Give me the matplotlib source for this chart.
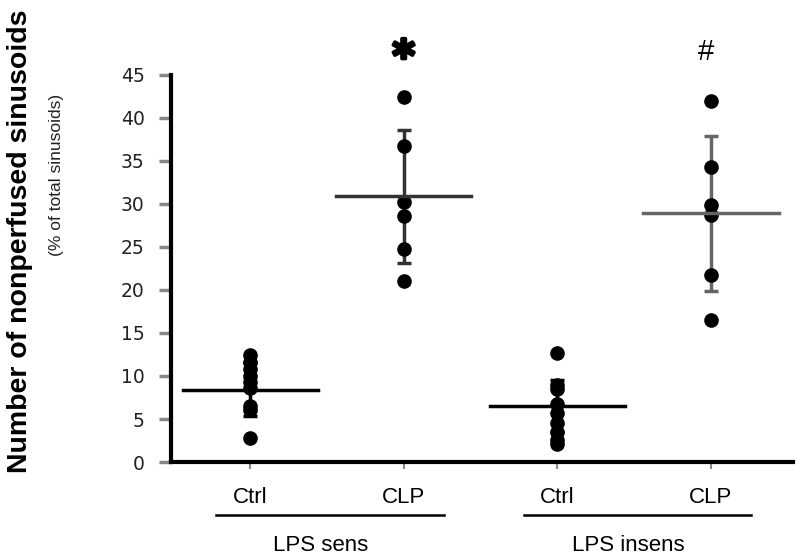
import matplotlib
matplotlib.use("Agg")
import matplotlib.pyplot as plt
import matplotlib.patheffects as pe
import numpy as np

# values
groups = ["Ctrl", "CLP", "Ctrl", "CLP"]
strains = ["LPS sens", "LPS insens"]
ctrl_sens = [12.4, 11.6, 10.8, 10.0, 9.3, 8.6, 6.5, 6.1, 2.8]
clp_sens = [42.4, 36.7, 30.2, 28.6, 24.8, 21.1]
ctrl_insens = [12.7, 9.0, 8.5, 6.8, 5.7, 4.5, 3.5, 2.6, 2.1]
clp_insens = [42.0, 34.3, 29.9, 28.7, 21.7, 16.5]
means = [8.4, 30.9, 6.5, 28.9]
sds = [3.1, 7.75, 3.0, 9.05]
marks = ["", "*", "", "#"]

data = [ctrl_sens, clp_sens, ctrl_insens, clp_insens]
pos = [1, 2, 3, 4]
line_col = ["black", "#333333", "black", "#666666"]

fig = plt.figure(figsize=(8, 5.59), dpi=100)
ax = fig.add_axes([0.214, 0.1735, 0.991 - 0.214, 0.866 - 0.1735])

for i, vals in enumerate(data):
    x = pos[i]
    ax.errorbar([x], [means[i]], yerr=[sds[i]], fmt="none", ecolor=line_col[i],
                elinewidth=2.5, capsize=5, capthick=2.5, zorder=2)
    ax.plot([x] * len(vals), vals, "o", color="black", ms=9.5, zorder=3)
    ax.plot([x - 0.44, x + 0.44], [means[i], means[i]], "-", color=line_col[i],
            lw=2.5, zorder=4)
    if marks[i] == "*":
        ax.text(x, 46.9, marks[i], ha="center", va="center", fontsize=31,
                fontweight="bold", family="DejaVu Sans", clip_on=False,
                path_effects=[pe.withStroke(linewidth=2.5, foreground="black")])
    elif marks[i]:
        ax.text(x - 0.03, 47.7, marks[i], ha="center", va="center", fontsize=21,
                family="Liberation Sans", clip_on=False)

ax.set_xlim(0.486, 4.533)
ax.set_ylim(0, 45)
ax.set_yticks(np.arange(0, 46, 5))
ax.set_xticks(pos)
ax.set_xticklabels([])
ax.tick_params(axis="y", direction="out", length=9, width=2.5, color="#888888",
               labelsize=13.5, labelcolor="#222222", pad=10)
ax.tick_params(axis="x", direction="out", length=5, width=1.5, color="#888888")
for lab in ax.get_yticklabels():
    lab.set_family("DejaVu Sans")
for s in ["top", "right"]:
    ax.spines[s].set_visible(False)
ax.spines["left"].set_linewidth(3)
ax.spines["bottom"].set_linewidth(3)

# x labels and group underlines
for i, g in enumerate(groups):
    ax.text(pos[i], -4.1, g, ha="center", va="center", fontsize=16,
            family="Liberation Sans", clip_on=False)
for k, name in enumerate(strains):
    xc = (pos[2 * k] + pos[2 * k + 1]) / 2
    ax.plot([xc - 0.72, xc + 0.76], [-6.16, -6.16], color="black", lw=1.8,
            clip_on=False)
    ax.text(xc - 0.04, -9.65, name, ha="center", va="center", fontsize=16,
            family="Liberation Sans", clip_on=False)

fig.text(0.025, 0.568, "Number of nonperfused sinusoids", rotation=90, ha="center",
         va="center", fontsize=20.5, fontweight="bold", family="Liberation Sans")
fig.text(0.07, 0.687, "(% of total sinusoids)", rotation=90, ha="center",
         va="center", fontsize=12.5, family="Liberation Sans", color="#222222")

fig.savefig("out.png", dpi=100)
